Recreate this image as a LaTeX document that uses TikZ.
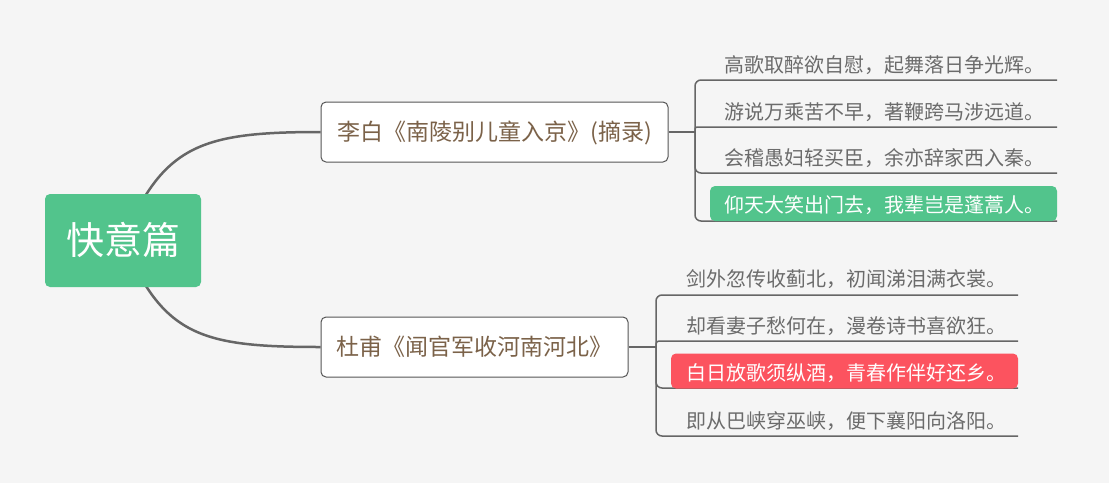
\documentclass[tikz,border=0pt]{standalone}
\usepackage{fontspec}
\newfontfamily\cjk{Noto Sans CJK SC}
\definecolor{bg}{HTML}{F5F5F5}
\definecolor{rootgreen}{HTML}{52C48C}
\definecolor{hlred}{HTML}{FC535F}
\definecolor{brtext}{HTML}{7B6249}
\definecolor{leafgray}{HTML}{6B6B6B}
\definecolor{linegray}{HTML}{666666}
\definecolor{bordergray}{HTML}{555555}
\tikzset{
  rootbox/.style={fill=rootgreen, rounded corners=5pt, minimum width=156pt, minimum height=93pt, inner sep=0pt,
    text=white, font=\cjk\fontsize{38}{40}\selectfont, text height=33.4pt, text depth=4.6pt},
  branchbox/.style={draw=bordergray, line width=1pt, fill=white, rounded corners=5pt, minimum height=60pt, inner sep=0pt,
    text=brtext, font=\cjk\fontsize{23}{26}\selectfont, text height=20.2pt, text depth=2.8pt},
  leaftext/.style={anchor=west, inner sep=0pt, text=leafgray, font=\cjk\fontsize{20}{22}\selectfont, text height=17.6pt, text depth=2.4pt},
  hltext/.style={leaftext, text=white},
  hlbox/.style={rounded corners=5pt, minimum width=347pt, minimum height=35pt, inner sep=0pt},
  stem/.style={draw=linegray, line width=2.5pt},
  leafline/.style={draw=linegray, line width=1.5pt, rounded corners=6pt},
}
\begin{document}
\begin{tikzpicture}[x=1pt,y=-1pt]
\useasboundingbox (0,0) rectangle (1109,483);
\fill[bg] (0,0) rectangle (1109,483);

% nodes
\node[branchbox, minimum width=347pt] (lb) at (494.5,132) {李白《南陵别儿童入京》(摘录)};
\node[branchbox, minimum width=307pt] (df) at (474.5,347) {杜甫《闻官军收河南河北》};

% main curves
\coordinate (rc) at (123,240.5);
\draw[stem] (rc) .. controls (163,145) and (201,132) .. (lb.west);
\draw[stem] (rc) .. controls (163,336) and (201,347) .. (df.west);
\node[rootbox] (root) at (123,240.5) {快意篇};

% Li Bai leaves
\coordinate (j1) at (695,132);
\coordinate (a1) at (1057,80);
\coordinate (a2) at (1057,127);
\coordinate (a3) at (1057,173);
\coordinate (a4) at (1057,221);
\draw[stem, line width=1.5pt] (lb.east) -- (j1);
\draw[leafline] (j1) |- (a1);
\draw[leafline, rounded corners=2pt] (j1) |- (a2);
\draw[leafline] (j1) |- (a3);
\draw[leafline] (j1) |- (a4);
\node[hlbox, fill=rootgreen] (hg) at (883.5,203.5) {};
\node[leaftext] (l1) at (724,65) {高歌取醉欲自慰，起舞落日争光辉。};
\node[leaftext] (l2) at (724,112) {游说万乘苦不早，著鞭跨马涉远道。};
\node[leaftext] (l3) at (724,158) {会稽愚妇轻买臣，余亦辞家西入秦。};
\node[hltext] (l4) at (724,205) {仰天大笑出门去，我辈岂是蓬蒿人。};

% Du Fu leaves
\coordinate (j2) at (656,347);
\coordinate (b1) at (1018,295);
\coordinate (b2) at (1018,341);
\coordinate (b3) at (1018,388);
\coordinate (b4) at (1018,436);
\draw[stem, line width=1.5pt] (df.east) -- (j2);
\draw[leafline] (j2) |- (b1);
\draw[leafline, rounded corners=3pt] (j2) |- (b2);
\draw[leafline] (j2) |- (b3);
\draw[leafline] (j2) |- (b4);
\node[hlbox, fill=hlred] (hr) at (844.5,371) {};
\node[leaftext] (d1) at (686,279) {剑外忽传收蓟北，初闻涕泪满衣裳。};
\node[leaftext] (d2) at (686,326) {却看妻子愁何在，漫卷诗书喜欲狂。};
\node[hltext] (d3) at (686,373) {白日放歌须纵酒，青春作伴好还乡。};
\node[leaftext] (d4) at (686,421) {即从巴峡穿巫峡，便下襄阳向洛阳。};
\end{tikzpicture}
\end{document}
